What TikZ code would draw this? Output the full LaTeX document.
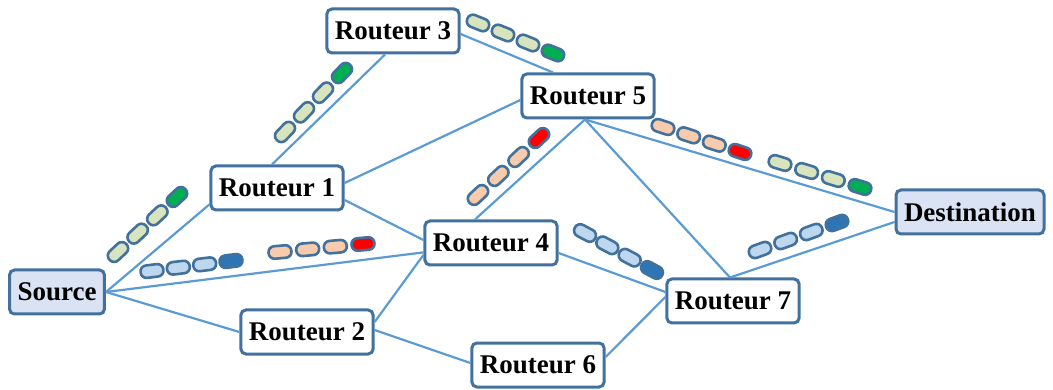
\documentclass[tikz,border=0pt]{standalone}
\usepackage{fontspec}
\setmainfont{Liberation Serif}
\usetikzlibrary{calc}
\definecolor{boxline}{HTML}{41719C}
\definecolor{edge}{HTML}{5B9BD5}
\definecolor{endfill}{HTML}{DAE3F3}
\definecolor{lgreen}{HTML}{D7E4BD}
\definecolor{dgreen}{HTML}{00B050}
\definecolor{lblue}{HTML}{BDD7EE}
\definecolor{dblue}{HTML}{2E75B6}
\definecolor{lorange}{HTML}{F8CBAD}
\definecolor{dred}{HTML}{FF0000}
\tikzset{
  router/.style={draw=boxline, line width=3pt, rounded corners=5pt, fill=white,
    inner xsep=8pt, minimum height=44pt, font=\fontsize{27}{29}\selectfont\bfseries},
  endpoint/.style={router, fill=endfill},
  link/.style={draw=edge, line width=2.2pt},
  pkt/.style={draw=boxline, line width=2.6pt, rounded corners=6pt,
    minimum width=23pt, minimum height=12.5pt, inner sep=0pt},
}
% chain: #1 name, #2 first centre, #3 last centre, #4 angle, #5 light, #6 dark
\newcommand\pktchain[6]{%
  \coordinate (#1a) at #2;
  \coordinate (#1b) at #3;
  \foreach \i in {0,1,2} {\node[pkt, fill=#5, rotate=#4] (#1\i) at ($(#1a)!\i/3!(#1b)$) {};}
  \node[pkt, fill=#6, rotate=#4] (#13) at (#1b) {};
}
\begin{document}
\begin{tikzpicture}[x=1pt,y=-1pt]
\useasboundingbox (0,0) rectangle (1053,390);
% nodes
\node[endpoint] (src) at (57,292) {Source};
\node[endpoint] (dst) at (970,212) {Destination};
\node[router] (r1) at (277,188) {Routeur 1};
\node[router] (r2) at (307,332) {Routeur 2};
\node[router] (r3) at (393,31) {Routeur 3};
\node[router] (r4) at (491,243) {Routeur 4};
\node[router] (r5) at (588,96) {Routeur 5};
\node[router] (r6) at (538,365) {Routeur 6};
\node[router] (r7) at (733,301) {Routeur 7};
% links
\path[link] (src.east) -- ($(r1.south west)!0.3!(r1.west)$);
\path[link] (src.east) -- ($(r4.west)!0.4!(r4.south west)$);
\path[link] (src.east) -- (r2.west);
\path[link] ($(r1.north)+(-5,0)$) -- ($(r3.south)+(-8,0)$);
\path[link] ($(r1.east)+(0,-5)$) -- ($(r5.west)+(0,4)$);
\path[link] ($(r1.east)+(0,12)$) -- ($(r4.west)+(0,-3)$);
\path[link] ($(r3.east)+(0,3)$) -- ($(r5.north)+(-35,0)$);
\path[link] ($(r5.south)+(-3,0)$) -- ($(r4.north)+(-16,0)$);
\path[link] ($(r5.south)+(-3,0)$) -- (dst.west);
\path[link] ($(r5.south)+(-3,0)$) -- ($(r7.north)+(-3,0)$);
\path[link] ($(r4.east)+(0,10)$) -- ($(r7.west)+(0,-9)$);
\path[link] ($(r4.west)+(0,12)$) -- ($(r2.east)+(0,-10)$);
\path[link] ($(r2.east)+(0,-2)$) -- ($(r6.west)+(0,-2)$);
\path[link] ($(r6.east)+(0,-8)$) -- ($(r7.west)+(0,-4)$);
\path[link] ($(r7.north)+(-3,0)$) -- ($(dst.west)+(0,10)$);
% packets
\pktchain{ca}{(118,252)}{(177,197)}{43}{lgreen}{dgreen}
\pktchain{cb}{(152,271)}{(231,261)}{7}{lblue}{dblue}
\pktchain{cc}{(280,252)}{(363,244)}{5}{lorange}{dred}
\pktchain{cd}{(285,132)}{(342,73)}{46}{lgreen}{dgreen}
\pktchain{ce}{(478,23)}{(553,53)}{-22}{lgreen}{dgreen}
\pktchain{cf}{(478,195)}{(539,138)}{43}{lorange}{dred}
\pktchain{cg}{(663,127)}{(740,152)}{-18}{lorange}{dred}
\pktchain{ch}{(780,163)}{(860,187)}{-17}{lgreen}{dgreen}
\pktchain{ci}{(760,250)}{(837,223)}{20}{lblue}{dblue}
\pktchain{cj}{(585,233)}{(652,270)}{-28}{lblue}{dblue}
\end{tikzpicture}
\end{document}
